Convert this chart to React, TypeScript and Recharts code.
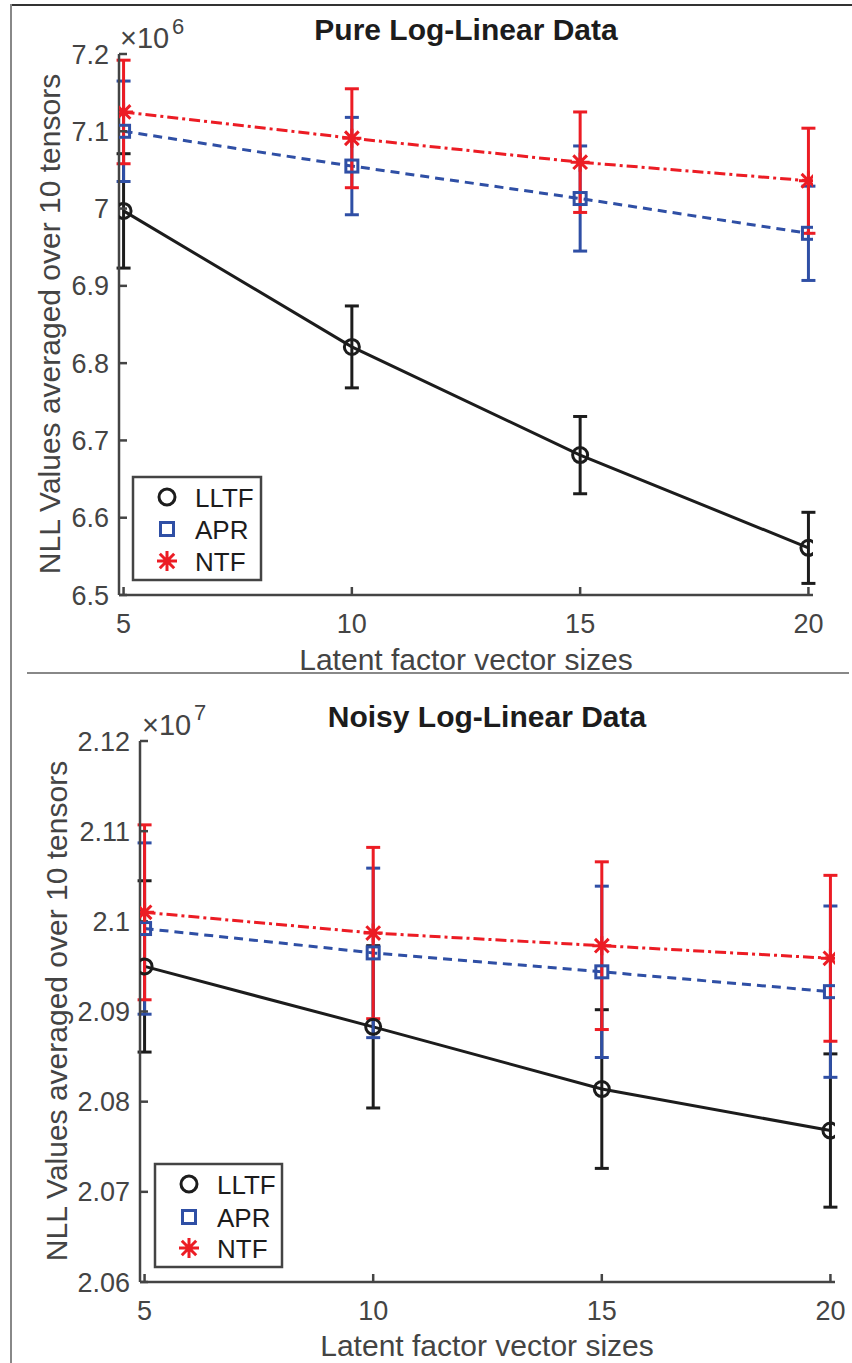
import React from 'react';
import { LineChart, Line, XAxis, YAxis, ErrorBar } from 'recharts';

const sizes = [5, 10, 15, 20];

// Pure Log-Linear Data (x 10^6)
const pureLLTF = [6.997, 6.821, 6.681, 6.561];
const pureLLTFErr = [0.074, 0.053, 0.05, 0.046];
const pureAPR = [7.1, 7.055, 7.013, 6.968];
const pureAPRErr = [0.065, 0.063, 0.068, 0.061];
const pureNTF = [7.125, 7.091, 7.06, 7.036];
const pureNTFErr = [0.067, 0.064, 0.065, 0.068];
const pureTicks = [6.5, 6.6, 6.7, 6.8, 6.9, 7.0, 7.1, 7.2];

// Noisy Log-Linear Data (x 10^7)
const noisyLLTF = [2.095, 2.0883, 2.0814, 2.0768];
const noisyLLTFErr = [0.0095, 0.009, 0.0088, 0.0085];
const noisyAPR = [2.0992, 2.0965, 2.0944, 2.0922];
const noisyAPRErr = [0.0095, 0.0094, 0.0095, 0.0095];
const noisyNTF = [2.101, 2.0987, 2.0973, 2.0959];
const noisyNTFErr = [0.0097, 0.0095, 0.0093, 0.0092];
const noisyTicks = [2.06, 2.07, 2.08, 2.09, 2.1, 2.11, 2.12];

const legendNames = ['LLTF', 'APR', 'NTF'];

const FONT = '"Liberation Sans", Arial, Helvetica, sans-serif';
const BLACK = '#1c1c1c';
const BLUE = '#2f4fa5';
const RED = '#ec1c24';
const AXIS = '#444444';
const LW = 3;

const buildRows = (l: number[], le: number[], a: number[], ae: number[], n: number[], ne: number[]) =>
  sizes.map((s, i) => ({
    size: s,
    lltf: l[i],
    lltfErr: le[i],
    apr: a[i],
    aprErr: ae[i],
    ntf: n[i],
    ntfErr: ne[i],
  }));

const pureRows = buildRows(pureLLTF, pureLLTFErr, pureAPR, pureAPRErr, pureNTF, pureNTFErr);
const noisyRows = buildRows(noisyLLTF, noisyLLTFErr, noisyAPR, noisyAPRErr, noisyNTF, noisyNTFErr);

const fmt = (v: number) => String(Number(v.toFixed(3)));

function CircleMark({ cx, cy, r = 7.5 }: { cx: number; cy: number; r?: number }) {
  return <circle cx={cx} cy={cy} r={r} fill="none" stroke={BLACK} strokeWidth={LW} />;
}

function SquareMark({ cx, cy, s = 12 }: { cx: number; cy: number; s?: number }) {
  return <rect x={cx - s / 2} y={cy - s / 2} width={s} height={s} fill="none" stroke={BLUE} strokeWidth={LW} />;
}

function StarMark({ cx, cy, r = 9.5 }: { cx: number; cy: number; r?: number }) {
  const d = r * 0.72;
  return (
    <path
      d={`M${cx},${cy - r}L${cx},${cy + r}M${cx - r},${cy}L${cx + r},${cy}M${cx - d},${cy - d}L${cx + d},${cy + d}M${cx - d},${cy + d}L${cx + d},${cy - d}`}
      stroke={RED}
      strokeWidth={LW}
      fill="none"
    />
  );
}

const circleDot = (p: any) => <CircleMark key={`c${p.index}`} cx={p.cx} cy={p.cy} />;
const squareDot = (p: any) => <SquareMark key={`s${p.index}`} cx={p.cx} cy={p.cy} />;
const starDot = (p: any) => <StarMark key={`a${p.index}`} cx={p.cx} cy={p.cy} />;

interface PanelProps {
  top: number;
  height: number;
  rows: any[];
  domain: [number, number];
  ticks: number[];
  yWidth: number;
  right: number;
  plotTop: number;
  bottom: number;
}

function Panel({ top, height, rows, domain, ticks, yWidth, right, plotTop, bottom }: PanelProps) {
  return (
    <div style={{ position: 'absolute', left: 0, top, width: 852, height }}>
      <LineChart width={852} height={height} data={rows} margin={{ top: plotTop, right, bottom, left: 0 }}>
        <XAxis
          dataKey="size"
          type="number"
          domain={[4.9, 20.1]}
          ticks={sizes}
          allowDataOverflow
          height={40}
          axisLine={{ stroke: AXIS, strokeWidth: 2.5 }}
          tickLine={{ stroke: AXIS, strokeWidth: 2.5 }}
          tickSize={-8}
          tickMargin={27}
          tick={{ fill: AXIS, fontSize: 27, fontFamily: FONT }}
        />
        <YAxis
          type="number"
          domain={domain}
          ticks={ticks}
          interval={0}
          allowDataOverflow
          width={yWidth}
          axisLine={{ stroke: AXIS, strokeWidth: 2.5 }}
          tickLine={{ stroke: AXIS, strokeWidth: 2.5 }}
          tickSize={-8}
          tickMargin={18}
          tickFormatter={fmt}
          tick={{ fill: AXIS, fontSize: 27, fontFamily: FONT }}
        />
        <Line dataKey="lltf" stroke={BLACK} strokeWidth={LW} dot={circleDot} activeDot={false} isAnimationActive={false}>
          <ErrorBar dataKey="lltfErr" direction="y" width={7} stroke={BLACK} strokeWidth={LW} />
        </Line>
        <Line
          dataKey="apr"
          stroke={BLUE}
          strokeWidth={LW}
          strokeDasharray="9 6"
          dot={squareDot}
          activeDot={false}
          isAnimationActive={false}
        >
          <ErrorBar dataKey="aprErr" direction="y" width={7} stroke={BLUE} strokeWidth={LW} />
        </Line>
        <Line
          dataKey="ntf"
          stroke={RED}
          strokeWidth={LW}
          strokeDasharray="11 4 3 4"
          dot={starDot}
          activeDot={false}
          isAnimationActive={false}
        >
          <ErrorBar dataKey="ntfErr" direction="y" width={7} stroke={RED} strokeWidth={LW} />
        </Line>
      </LineChart>
    </div>
  );
}

function LegendBox({ x, y, w, h, markX, textX, rowsY }: { x: number; y: number; w: number; h: number; markX: number; textX: number; rowsY: number[] }) {
  return (
    <g>
      <rect x={x} y={y} width={w} height={h} fill="#fff" stroke={AXIS} strokeWidth={2.5} />
      {legendNames.map((name, i) => (
        <g key={name}>
          {i === 0 && <CircleMark cx={markX} cy={rowsY[i]} r={8} />}
          {i === 1 && <SquareMark cx={markX} cy={rowsY[i]} s={13} />}
          {i === 2 && <StarMark cx={markX} cy={rowsY[i]} r={10} />}
          <text x={textX} y={rowsY[i] + 9.5} fontSize={26} fontFamily={FONT} fill={BLACK}>
            {name}
          </text>
        </g>
      ))}
    </g>
  );
}

export default function App() {
  return (
    <div style={{ position: 'absolute', left: 0, top: 0, width: 852, height: 1363, background: '#fff' }}>
      <Panel top={0} height={673} rows={pureRows} domain={[6.5, 7.2]} ticks={pureTicks} yWidth={119} right={39} plotTop={54} bottom={38} />
      <Panel top={673} height={690} rows={noisyRows} domain={[2.06, 2.12]} ticks={noisyTicks} yWidth={140} right={17} plotTop={68} bottom={41} />
      <svg width={852} height={1363} style={{ position: 'absolute', left: 0, top: 0, pointerEvents: 'none' }}>
        {/* frame */}
        <line x1={11} y1={5} x2={852} y2={5} stroke="#333" strokeWidth={2} />
        <line x1={11} y1={4} x2={11} y2={1363} stroke="#888" strokeWidth={2} />
        <line x1={27} y1={673} x2={849} y2={673} stroke="#888" strokeWidth={2} />

        {/* top panel texts */}
        <text x={466} y={40} textAnchor="middle" fontSize={30} fontWeight="bold" fontFamily={FONT} fill={BLACK}>
          Pure Log-Linear Data
        </text>
        <text x={120} y={48} fontSize={29} fontFamily={FONT} fill={AXIS}>
          ×10
        </text>
        <text x={172} y={34} fontSize={22} fontFamily={FONT} fill={AXIS}>
          6
        </text>
        <text x={466} y={670} textAnchor="middle" fontSize={30} fontFamily={FONT} fill={AXIS}>
          Latent factor vector sizes
        </text>
        <text transform="translate(60,324) rotate(-90)" textAnchor="middle" fontSize={30} fontFamily={FONT} fill={AXIS}>
          NLL Values averaged over 10 tensors
        </text>
        <LegendBox x={133} y={477} w={128} h={103} markX={167} textX={195} rowsY={[497, 529, 561]} />

        {/* bottom panel texts */}
        <text x={487} y={727} textAnchor="middle" fontSize={30} fontWeight="bold" fontFamily={FONT} fill={BLACK}>
          Noisy Log-Linear Data
        </text>
        <text x={142} y={735} fontSize={29} fontFamily={FONT} fill={AXIS}>
          ×10
        </text>
        <text x={194} y={720} fontSize={22} fontFamily={FONT} fill={AXIS}>
          7
        </text>
        <text x={487} y={1356} textAnchor="middle" fontSize={30} fontFamily={FONT} fill={AXIS}>
          Latent factor vector sizes
        </text>
        <text transform="translate(67,1011) rotate(-90)" textAnchor="middle" fontSize={30} fontFamily={FONT} fill={AXIS}>
          NLL Values averaged over 10 tensors
        </text>
        <LegendBox x={155} y={1164} w={127} h={103} markX={189} textX={217} rowsY={[1184, 1217, 1248]} />
      </svg>
    </div>
  );
}
